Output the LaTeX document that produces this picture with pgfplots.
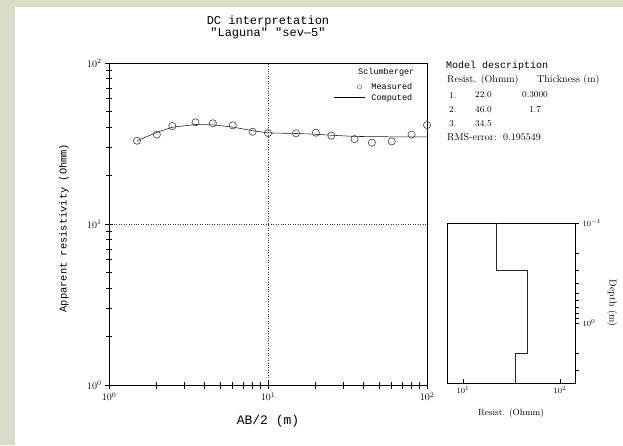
\documentclass[border=0pt]{standalone}
\usepackage{pgfplots}
\pgfplotsset{compat=1.18}
\usepackage{fontspec}
\newfontfamily\monofont{Liberation Mono}
\definecolor{beige}{RGB}{220,219,197}
\pgfplotstableread{
x rho
1.5 32.9
2 35.9
2.5 40.6
3.5 42.8
4.5 42.2
6 41.0
8 37.4
10 36.7
15 36.6
20 36.9
25 35.4
35 33.7
45 32.0
60 32.6
80 35.9
100 41.2
}\measured
\pgfplotstableread{
x rho
1.5 32.9
2 37.1
2.5 39.9
3.5 41.5
4.5 41.3
6 40.0
8 38.0
10 36.8
15 36.5
20 36.1
25 35.6
35 35.0
45 34.9
60 34.8
80 34.8
100 34.8
}\computed
\pgfplotstableread{
res depth
22 0.1
22 0.3
46 0.3
46 2.0
34.5 2.0
34.5 3.98
}\model
\begin{document}
\begin{tikzpicture}
\fill[white] (0pt,0pt) rectangle (623pt,-445pt);
\fill[beige] (0pt,0pt) rectangle (623pt,-7pt);
\fill[beige] (0pt,0pt) rectangle (15pt,-445pt);
\begin{axis}[
  at={(109pt,-385pt)}, anchor=south west,
  scale only axis, width=318pt, height=322pt,
  xmode=log, ymode=log, xmin=1, xmax=100, ymin=1, ymax=100,
  axis line style={black, line width=0.7pt},
  xtick={1,10,100}, ytick={1,10,100},
  minor xtick={2,3,4,5,6,7,8,9,20,30,40,50,60,70,80,90},
  minor ytick={2,3,4,5,6,7,8,9,20,30,40,50,60,70,80,90},
  xtick pos=left, ytick pos=left,
  xtick align=center, ytick align=center,
  major tick length=8pt, minor tick length=7pt,
  every tick/.append style={black, line width=0.8pt},
  tick label style={font=\fontsize{10}{11}\selectfont},
  legend style={draw=none, fill=none, at={(axis description cs:0.7075,0.944)}, anchor=north west,
    font=\monofont\fontsize{8.5}{9}\selectfont, inner sep=0pt, row sep=0pt,
    nodes={inner sep=2pt, text height=6pt, text depth=1pt}},
  legend cell align=left,
]
\draw[black!80, dotted, line width=0.45pt] (axis cs:10,1) -- (axis cs:10,100);
\draw[black!80, dotted, line width=0.45pt] (axis cs:1,10) -- (axis cs:100,10);
\addplot[only marks, mark=o, mark size=3.6pt, black!75, line width=0.6pt,
  legend image code/.code={\draw[draw=none] (0pt,0pt) -- (35pt,0pt); \draw[black!55, line width=0.5pt] (25pt,0pt) circle (2.2pt);}]
  table[x=x,y=rho] {\measured};
\addlegendentry{Measured}
\addplot[black!90, line width=0.55pt, mark=none,
  legend image code/.code={\draw[draw=none] (0pt,0pt) -- (35pt,0pt); \draw[black, line width=0.6pt] (0pt,0pt) -- (31pt,0pt);}]
  table[x=x,y=rho] {\computed};
\addlegendentry{Computed}
\end{axis}
\begin{axis}[
  at={(447pt,-383pt)}, anchor=south west,
  scale only axis, width=128pt, height=160pt,
  xmode=log, ymode=log, xmin=6.84, xmax=143, ymin=0.1, ymax=3.98, y dir=reverse,
  xtick={10,100}, ytick={0.1,1}, xminorticks=false,
  minor ytick={0.2,0.3,0.4,0.5,0.6,0.7,0.8,0.9,2,3},
  axis line style={black, line width=0.7pt},
  xtick pos=left, ytick pos=right, yticklabel pos=right,
  xtick align=inside, ytick align=outside,
  major tick length=4pt, minor tick length=4pt,
  every tick/.append style={black, line width=0.8pt},
  tick label style={font=\fontsize{8.5}{9}\selectfont},
]
\addplot[black!85, line width=0.7pt, mark=none] table[x=res,y=depth] {\model};
\end{axis}
\begin{scope}[x=1pt,y=1pt]
\node[font=\monofont\fontsize{12}{12}\selectfont, align=center] at (268,-27.5) {DC interpretation\\"Laguna" "sev—5"};
\node[font=\monofont\fontsize{13}{13}\selectfont] at (268,-421) {AB/2 (m)};
\node[font=\monofont\fontsize{10.4}{11}\selectfont, rotate=90] at (64,-228) {Apparent resistivity (Ohmm)};
\node[font=\monofont\fontsize{8.5}{9}\selectfont, anchor=west, inner sep=0pt] at (358,-72) {Sclumberger};
\node[font=\monofont\fontsize{10}{11}\selectfont, anchor=west, inner sep=0pt] at (446,-66) {Model description};
\begin{scope}[every node/.style={font=\fontsize{10}{11}\selectfont, inner sep=0pt}]
\node[anchor=west] at (447,-80) {Resist. (Ohmm)};
\node[anchor=west] at (537,-80) {Thickness (m)};
\node[anchor=west] at (447,-137.5) {RMS-error:};
\node[anchor=west] at (503,-137.5) {0.195549};
\node[rotate=-90] at (612,-303) {Depth (m)};
\end{scope}
\begin{scope}[every node/.style={font=\fontsize{9}{10}\selectfont, inner sep=0pt}]
\node[anchor=west] at (449,-95) {1.};
\node[anchor=west] at (475,-95) {22.0};
\node at (535,-95) {0.3000};
\node[anchor=west] at (449,-109.5) {2.};
\node[anchor=west] at (475,-109.5) {46.0};
\node at (535,-109.5) {1.7};
\node[anchor=west] at (449,-123.5) {3.};
\node[anchor=west] at (475,-123.5) {34.5};
\node at (511,-413) {Resist. (Ohmm)};
\end{scope}
\end{scope}
\end{tikzpicture}
\end{document}
